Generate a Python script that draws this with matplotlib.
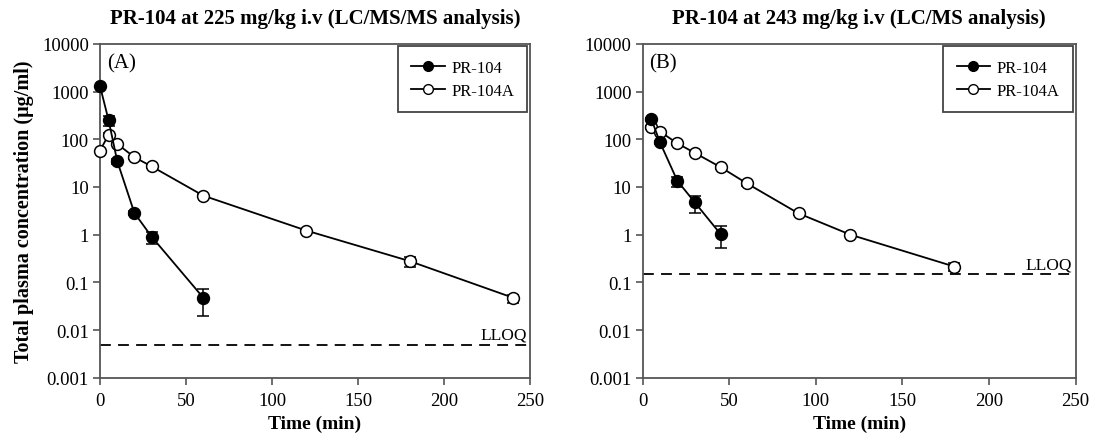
import numpy as np
import matplotlib.pyplot as plt
from matplotlib.lines import Line2D

plt.rcParams['font.family'] = ['Liberation Serif', 'DejaVu Serif']

# panel A: 225 mg/kg, LC/MS/MS
a_t_pr104 = [0, 5, 10, 20, 30, 60]
a_c_pr104 = [1300, 250, 35, 2.85, 0.91, 0.048]
a_lo_pr104 = [1150, 190, 31, 2.6, 0.64, 0.0195]
a_hi_pr104 = [1450, 310, 39, 3.1, 1.16, 0.072]

a_t_pr104a = [0, 5, 10, 20, 30, 60, 120, 180, 240]
a_c_pr104a = [58, 124, 80, 42, 27, 6.6, 1.22, 0.28, 0.048]
a_lo_pr104a = [54, 115, 75, 39, 25, 6.2, 1.12, 0.21, 0.037]
a_hi_pr104a = [62, 133, 85, 45, 29, 7.0, 1.32, 0.34, 0.055]
a_lloq = 0.005

# panel B: 243 mg/kg, LC/MS
b_t_pr104 = [5, 10, 20, 30, 45]
b_c_pr104 = [265, 86, 13.5, 4.8, 1.03]
b_lo_pr104 = [245, 78, 10, 2.9, 0.52]
b_hi_pr104 = [285, 94, 16.5, 6.5, 1.5]

b_t_pr104a = [5, 10, 20, 30, 45, 60, 90, 120, 180]
b_c_pr104a = [178, 145, 82, 52, 26, 12, 2.8, 1.0, 0.215]
b_lo_pr104a = [165, 135, 77, 49, 24, 10.5, 2.6, 0.93, 0.17]
b_hi_pr104a = [190, 155, 87, 55, 28, 13.5, 3.0, 1.07, 0.26]
b_lloq = 0.15

fig = plt.figure(figsize=(10.93, 4.35), dpi=100)
ax1 = fig.add_axes([0.0915, 0.129, 0.3934, 0.768])
ax2 = fig.add_axes([0.588, 0.129, 0.396, 0.768])

frame_col = '#555555'


def errs(c, lo, hi):
    c = np.array(c)
    return [c - np.array(lo), np.array(hi) - c]


def panel(ax, t1, c1, lo1, hi1, t2, c2, lo2, hi2, lloq, tag, title):
    for t, c, lo, hi, fill, z in [(t2, c2, lo2, hi2, 'white', 3),
                                  (t1, c1, lo1, hi1, 'black', 4)]:
        line, caps, bars = ax.errorbar(t, c, yerr=errs(c, lo, hi),
                                       color='black', lw=1.3, marker='o',
                                       ms=8.5, mfc=fill, mec='black', mew=1.1,
                                       capsize=4, elinewidth=1.1, zorder=z)
        line.set_clip_on(False)
    ax.axhline(lloq, color='black', ls=(0, (6, 4)), lw=1.3)
    ax.text(248, lloq * 1.1, 'LLOQ', ha='right', va='bottom', fontsize=12.5)
    ax.text(4, 4000, tag, fontsize=15, va='center')
    ax.set_yscale('log')
    ax.set_xlim(0, 250)
    ax.set_ylim(0.001, 10000)
    ax.set_yticks([0.001, 0.01, 0.1, 1, 10, 100, 1000, 10000])
    ax.set_yticklabels(['0.001', '0.01', '0.1', '1', '10', '100', '1000', '10000'])
    ax.set_xticks([0, 50, 100, 150, 200, 250])
    ax.minorticks_off()
    ax.tick_params(direction='out', labelsize=13.5, length=5, width=1.2,
                   color=frame_col, top=False, right=False, pad=3)
    ax.tick_params(axis='x', pad=5)
    for s in ax.spines.values():
        s.set_color(frame_col)
        s.set_linewidth(1.3)
    ax.set_xlabel('Time (min)', fontsize=14, fontweight='bold', labelpad=4)
    ax.set_title(title, fontsize=15, fontweight='bold', pad=15)
    handles = [
        Line2D([], [], color='black', lw=1.3, marker='o', ms=7,
               mfc='black', mec='black'),
        Line2D([], [], color='black', lw=1.3, marker='o', ms=7,
               mfc='white', mec='black'),
    ]
    leg = ax.legend(handles, ['PR-104', 'PR-104A'], loc='upper right',
                    fontsize=12, fancybox=False, edgecolor='#444444',
                    framealpha=1, borderaxespad=0.15, handlelength=2.0,
                    borderpad=0.8, labelspacing=0.45, handletextpad=0.4)
    leg.get_frame().set_linewidth(1.3)
    leg.set_zorder(5)


panel(ax1, a_t_pr104, a_c_pr104, a_lo_pr104, a_hi_pr104,
      a_t_pr104a, a_c_pr104a, a_lo_pr104a, a_hi_pr104a, a_lloq,
      '(A)', 'PR-104 at 225 mg/kg i.v (LC/MS/MS analysis)')
panel(ax2, b_t_pr104, b_c_pr104, b_lo_pr104, b_hi_pr104,
      b_t_pr104a, b_c_pr104a, b_lo_pr104a, b_hi_pr104a, b_lloq,
      '(B)', 'PR-104 at 243 mg/kg i.v (LC/MS analysis)')

ax1.set_ylabel('Total plasma concentration (\u03bcg/ml)', fontsize=14.5,
               fontweight='bold', labelpad=6)

fig.savefig('out.png', dpi=100)
